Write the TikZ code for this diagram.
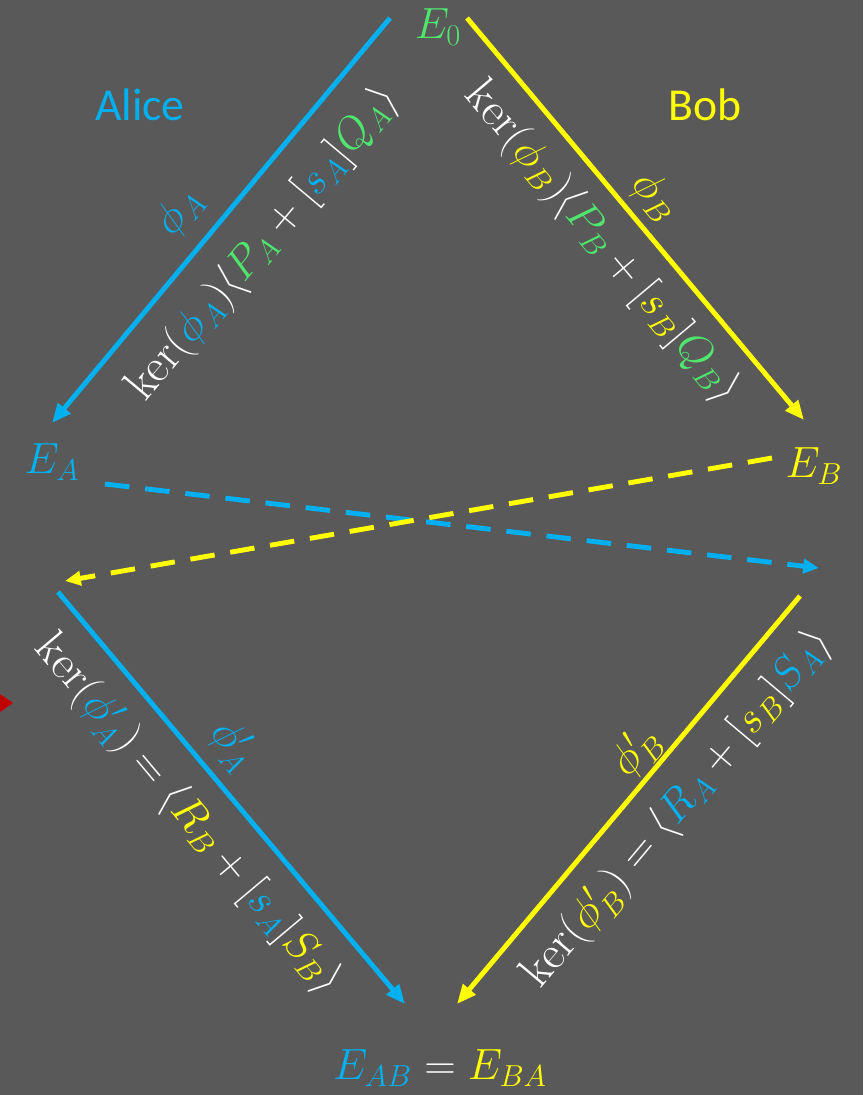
\documentclass[tikz,border=0pt]{standalone}
\usepackage{fontspec}
\setsansfont{Carlito}
\usetikzlibrary{arrows.meta}

\definecolor{bgcol}{RGB}{89,89,89}
\definecolor{alicecol}{RGB}{0,176,240}
\definecolor{bobcol}{RGB}{255,255,0}
\definecolor{basecol}{RGB}{80,230,110}
\definecolor{markcol}{RGB}{192,0,0}
\newcommand{\al}[1]{\textcolor{alicecol}{#1}}
\newcommand{\bo}[1]{\textcolor{bobcol}{#1}}
\newcommand{\ba}[1]{\textcolor{basecol}{#1}}

\begin{document}
\begin{tikzpicture}[
  x=0.02cm, y=-0.02cm,
  font=\fontsize{24}{28}\selectfont,
  lbl/.style={text=white, inner sep=0pt},
  kerlbl/.style={text=white, inner sep=0pt, font=\fontsize{27}{32}\selectfont},
  who/.style={font=\fontsize{26}{30}\selectfont\sffamily, inner sep=0pt},
  isog/.style={line width=2.8pt, -{Triangle[length=11pt,width=9pt]}},
  trade/.style={line width=2.8pt, dash pattern=on 14pt off 9pt, -{Triangle[length=9pt,width=8pt]}}
]
\fill[bgcol] (0,0) rectangle (863,1095);
\useasboundingbox (0,0) rectangle (863,1095);
\fill[markcol] (0,694) -- (13,703) -- (0,712) -- cycle;

% curves
\node[text=basecol, inner sep=0pt] (E0) at (438,27) {$E_0$};
\node[who, text=alicecol] (alice) at (140,105) {Alice};
\node[who, text=bobcol] (bob) at (705,105) {Bob};
\node[text=alicecol, inner sep=0pt] (EA) at (52,462) {$E_A$};
\node[text=bobcol, inner sep=0pt] (EB) at (814,466) {$E_B$};
\node[text=white, inner sep=0pt] (EAB) at (440,1068) {$\al{E_{AB}} = \bo{E_{BA}}$};

% arrow ends
\coordinate (a0) at (390,18);  \coordinate (a1) at (52,423);
\coordinate (b0) at (467,18);  \coordinate (b1) at (804,420);
\coordinate (c0) at (105,484); \coordinate (c1) at (819,568);
\coordinate (d0) at (772,458); \coordinate (d1) at (65,581);
\coordinate (e0) at (58,592);  \coordinate (e1) at (405,1004);
\coordinate (f0) at (800,596); \coordinate (f1) at (457,1004);

\draw[isog, alicecol] (a0) -- (a1);
\draw[isog, bobcol] (b0) -- (b1);
\draw[trade, alicecol] (c0) -- (c1);
\draw[trade, bobcol] (d0) -- (d1);
\draw[isog, alicecol] (e0) -- (e1);
\draw[isog, bobcol] (f0) -- (f1);

% labels
\node[lbl, rotate=50, text=alicecol] (phiA) at (180,212) {$\phi_A$};
\node[kerlbl, rotate=50] (kerA) at (264,244) {$\ker(\al{\phi_A})\langle\ba{P_A} + [\al{s_A}]\ba{Q_A}\rangle$};
\node[lbl, rotate=-50, text=bobcol] (phiB) at (655,197) {$\phi_B$};
\node[kerlbl, rotate=-50] (kerB) at (602,243) {$\ker(\bo{\phi_B})\langle\ba{P_B} + [\bo{s_B}]\ba{Q_B}\rangle$};
\node[lbl, rotate=-50, text=alicecol] (phiA2) at (233,745) {$\phi'_A$};
\node[kerlbl, rotate=-50] (kerA2) at (188,815) {$\ker(\al{\phi'_A}) = \langle\bo{R_B} + [\al{s_A}]\bo{S_B}\rangle$};
\node[lbl, rotate=50, text=bobcol] (phiB2) at (636,752) {$\phi'_B$};
\node[kerlbl, rotate=50] (kerB2) at (678,809) {$\ker(\bo{\phi'_B}) = \langle\al{R_A} + [\bo{s_B}]\al{S_A}\rangle$};
\end{tikzpicture}
\end{document}
